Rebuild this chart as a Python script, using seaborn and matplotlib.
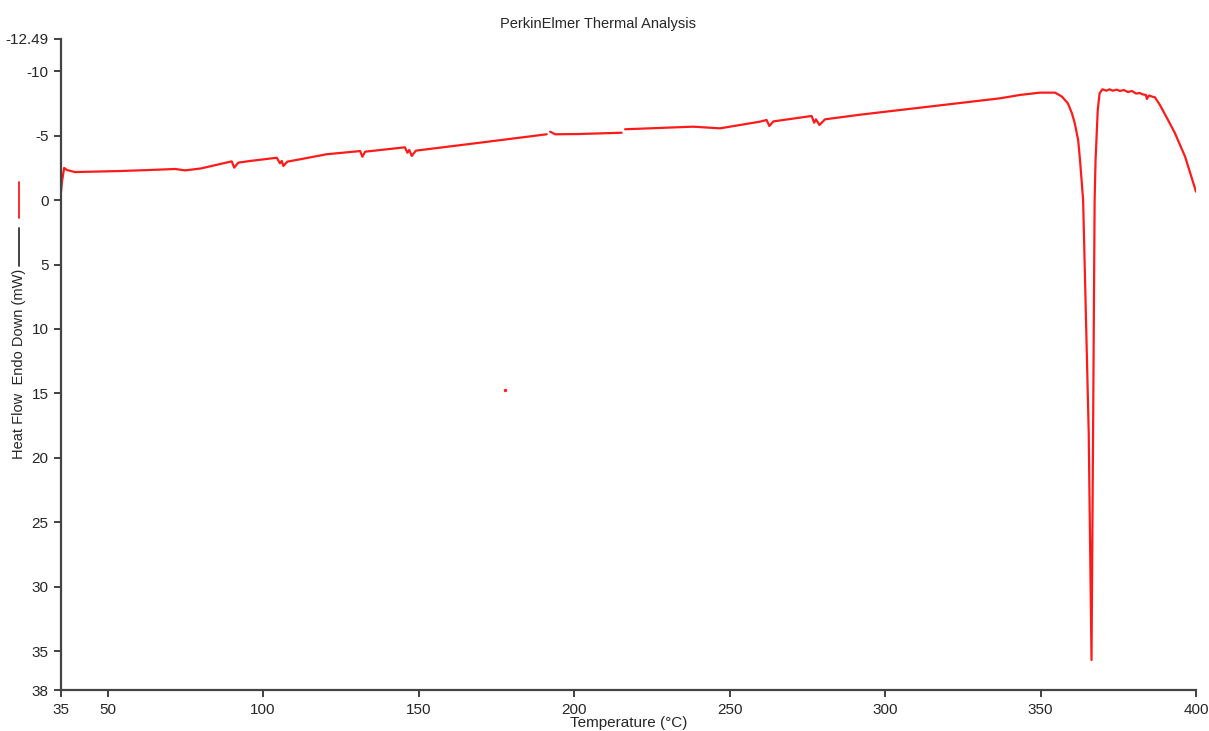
import numpy as np
import pandas as pd
import matplotlib
matplotlib.use("Agg")
import matplotlib.pyplot as plt
from matplotlib.lines import Line2D
import seaborn as sns

# DSC trace (temperature in C, heat flow in mW)
seg1_temp = [35.0, 35.3, 36.0, 36.9, 39.5, 54.0, 63.6, 71.7, 74.9, 80.0, 89.9, 90.7, 92.0,
             95.8, 104.4, 105.4, 106.0, 106.5, 107.8, 111.9, 120.4, 131.2, 131.9, 132.8,
             145.6, 146.4, 147.0, 147.8, 149.1, 170.8, 191.2]
seg1_flow = [-0.62, -1.40, -2.49, -2.33, -2.17, -2.25, -2.33, -2.41, -2.30, -2.45, -3.00,
             -2.51, -2.90, -3.03, -3.28, -2.85, -3.03, -2.64, -2.98, -3.16, -3.55, -3.80,
             -3.36, -3.75, -4.09, -3.67, -3.88, -3.42, -3.83, -4.48, -5.10]
seg2_temp = [192.3, 193.9, 201.4, 215.3]
seg2_flow = [-5.30, -5.10, -5.12, -5.22]
seg3_temp = [216.4, 238.3, 246.9, 259.8, 261.9, 262.8, 264.1, 276.4, 277.2, 277.8, 278.9,
             280.7, 292.0, 337.0, 343.4, 349.8, 354.7, 356.9, 358.8, 360.1, 361.0, 362.1,
             362.7, 363.7, 365.5, 366.4, 366.9, 367.4, 367.7, 368.4, 369.0, 369.9, 371.2,
             372.2, 373.2, 374.5, 375.5, 376.8, 378.1, 379.4, 380.7, 381.9, 382.9, 383.9,
             384.2, 384.9, 385.8, 386.8, 388.4, 391.0, 393.2, 396.5, 400.0]
seg3_flow = [-5.49, -5.69, -5.56, -6.08, -6.21, -5.74, -6.10, -6.52, -6.00, -6.26, -5.82,
             -6.26, -6.62, -7.89, -8.15, -8.33, -8.33, -8.02, -7.50, -6.73, -5.97, -4.66,
             -3.10, 0.00, 18.07, 35.67, 18.07, 0.00, -3.10, -6.98, -8.28, -8.59, -8.48,
             -8.59, -8.48, -8.56, -8.46, -8.53, -8.38, -8.46, -8.26, -8.30, -8.19, -8.15,
             -7.84, -8.11, -8.03, -7.97, -7.37, -6.21, -5.20, -3.36, -0.65]
stray_temp = [177.8]
stray_flow = [14.7]

x_ticks = [35, 50, 100, 150, 200, 250, 300, 350, 400]
y_ticks = [-12.49, -10, -5, 0, 5, 10, 15, 20, 25, 30, 35, 38]
y_ticklabels = ["-12.49", "-10", "-5", "0", "5", "10", "15", "20", "25", "30", "35", "38"]

segs = [(seg1_temp, seg1_flow), (seg2_temp, seg2_flow), (seg3_temp, seg3_flow)]
df = pd.concat([pd.DataFrame({"temp": t, "flow": f, "seg": i}) for i, (t, f) in enumerate(segs)],
               ignore_index=True)

sns.set_style("white")
plt.rcParams["font.family"] = ["Liberation Sans", "DejaVu Sans"]

fig = plt.figure(figsize=(12.09, 7.31), dpi=100)
ax = fig.add_axes([61 / 1209, 1 - 690 / 731, (1196 - 61) / 1209, (690 - 39) / 731])

red = "#ff1a1a"
sns.lineplot(data=df, x="temp", y="flow", units="seg", estimator=None, color=red,
             lw=1.6, sort=False, ax=ax, legend=False)
sns.scatterplot(x=stray_temp, y=stray_flow, color=red, s=6, linewidth=0, ax=ax)

ax.set_xlim(35, 400)
ax.set_ylim(38, -12.49)
ax.set_xticks(x_ticks)
ax.set_xticklabels([str(v) for v in x_ticks], fontsize=11)
ax.set_yticks(y_ticks)
ax.set_yticklabels(y_ticklabels, fontsize=11)
ax.tick_params(bottom=True, left=True, direction="out", length=5, width=1.3,
               color="#333333", pad=4)
sns.despine(ax=ax)
for s in ["left", "bottom"]:
    ax.spines[s].set_color("#444444")
    ax.spines[s].set_linewidth(1.6)

ax.set_xlabel("Temperature (°C)", fontsize=11, labelpad=0)
ax.set_ylabel("")
fig.text(598 / 1209, 1 - 24 / 731, "PerkinElmer Thermal Analysis", ha="center", va="center",
         fontsize=10.5)
fig.text(19 / 1209, 1 - 364 / 731, "Heat Flow  Endo Down (mW)", rotation=90, ha="center",
         va="center", fontsize=10.5)
fig.add_artist(Line2D([19 / 1209, 19 / 1209], [1 - 182 / 731, 1 - 218 / 731], color=red, lw=1.3))
fig.add_artist(Line2D([19 / 1209, 19 / 1209], [1 - 228 / 731, 1 - 266 / 731], color="#333333", lw=1.3))

fig.savefig("out.png", dpi=100, facecolor="white")
